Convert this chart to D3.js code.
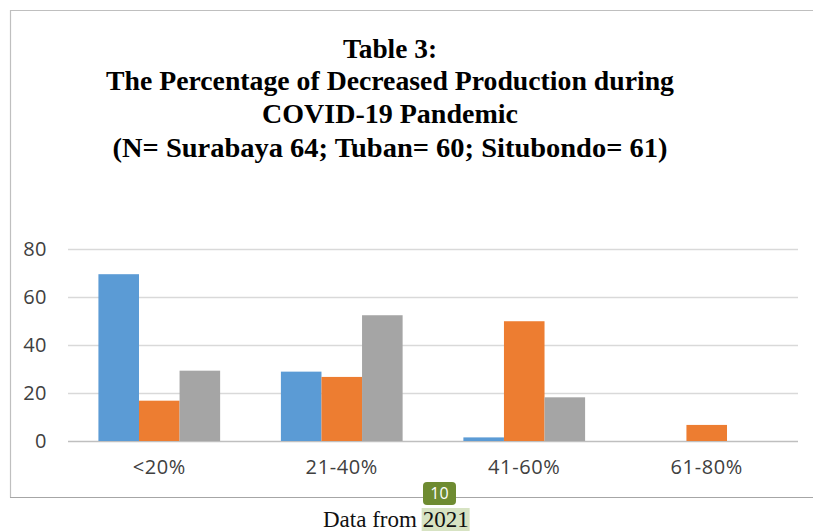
<!DOCTYPE html>
<html><head><meta charset="utf-8">
<script src="https://cdn.jsdelivr.net/npm/d3@7"></script>
<style>body{margin:0;background:#fff;}svg{display:block;}</style>
</head><body>
<script>
const categories = ["<20%", "21-40%", "41-60%", "61-80%"];
const seriesNames = ["Surabaya", "Tuban", "Situbondo"];
const surabaya = [69.5, 28.9, 1.5, 0];
const tuban = [16.8, 26.7, 49.9, 6.7];
const situbondo = [29.3, 52.4, 18.2, 0];
const yTicks = [0, 20, 40, 60, 80];
const titleLines = ["Table 3:", "The Percentage of Decreased Production during", "COVID-19 Pandemic", "(N= Surabaya 64; Tuban= 60; Situbondo= 61)"];
const colors = ["#5b9bd5", "#ed7d31", "#a5a5a5"];

const W = 813, H = 531;
const svg = d3.select("body").append("svg").attr("width", W).attr("height", H);

// chart frame
svg.append("path").attr("d", "M10.5,497.5 V10.5 H813").attr("fill","none").attr("stroke","#bfbfbf").attr("stroke-width",1.2);
svg.append("line").attr("x1",10).attr("x2",813).attr("y1",497.5).attr("y2",497.5).attr("stroke","#a6a6a6");

// title
const titleY = [58, 90, 123, 157];
const titleW = [94, 568, 256, 555];
svg.append("g").selectAll("text").data(titleLines).join("text")
  .attr("x", 390).attr("y", (d,i)=>titleY[i])
  .attr("text-anchor","middle")
  .attr("font-family","'Liberation Serif','Times New Roman',serif")
  .attr("font-weight","bold").attr("font-size",27)
  .attr("textLength",(d,i)=>titleW[i]).attr("lengthAdjust","spacingAndGlyphs")
  .attr("fill","#000").text(d=>d);

// scales
const x0 = d3.scaleBand().domain(categories).range([68, 798]).paddingInner(0.333).paddingOuter(0.1667);
const x1 = d3.scaleBand().domain(seriesNames).range([0, x0.bandwidth()]);
const y = d3.scaleLinear().domain([0, 80]).range([441, 249]);

// grid
const grid = svg.append("g").attr("transform","translate(68,0)")
  .call(d3.axisLeft(y).tickValues(yTicks).tickSize(-(798-68)).tickFormat(""));
grid.select(".domain").remove();
grid.selectAll(".tick line").attr("stroke", d=> d===0 ? "#bfbfbf" : "#d9d9d9").attr("stroke-width",1.3);

// y labels
const yAx = svg.append("g").attr("transform","translate(68,0)")
  .call(d3.axisLeft(y).tickValues(yTicks).tickSize(0).tickPadding(21));
yAx.select(".domain").remove();
yAx.attr("font-size",null).attr("font-family",null);
yAx.selectAll("text").style("font-family","'Open Sans',sans-serif").style("font-size","20px").style("letter-spacing","0.5px").attr("fill","#404040");

// bars
const data = [surabaya, tuban, situbondo];
categories.forEach((c, ci) => {
  seriesNames.forEach((s, si) => {
    const v = data[si][ci];
    if (v <= 0) return;
    svg.append("rect")
      .attr("x", x0(c) + x1(s)).attr("width", x1.bandwidth())
      .attr("y", y(v)).attr("height", y(0) - y(v))
      .attr("fill", colors[si]);
  });
});

// x labels
const xAx = svg.append("g").attr("transform","translate(0,441)")
  .call(d3.axisBottom(x0).tickSize(0).tickPadding(19));
xAx.select(".domain").remove();
xAx.attr("font-size",null).attr("font-family",null);
xAx.selectAll("text").style("font-family","'Open Sans',sans-serif").style("font-size","20px").style("letter-spacing","0.6px").attr("fill","#404040");

// footer
const hl = svg.append("rect").attr("fill","#d7e3c3");
const foot = svg.append("text").attr("x",323).attr("y",527)
  .attr("font-family","'Liberation Serif','Times New Roman',serif").attr("font-size",23).attr("fill","#111");
const t1 = foot.append("tspan").text("Data from ");
const t2 = foot.append("tspan").text("2021");
const w1 = t1.node().getComputedTextLength();
const w2 = t2.node().getComputedTextLength();
hl.attr("x",323 + w1 - 1).attr("y",508).attr("width",w2 + 2).attr("height",23);
svg.append("rect").attr("x",423).attr("y",482).attr("width",33).attr("height",23).attr("rx",4).attr("fill","#6e8b31");
svg.append("text").attr("x",439.5).attr("y",499).attr("text-anchor","middle")
  .attr("font-family","'Open Sans',sans-serif").attr("font-size",16).attr("fill","#fff").text("10");
</script>
</body></html>
